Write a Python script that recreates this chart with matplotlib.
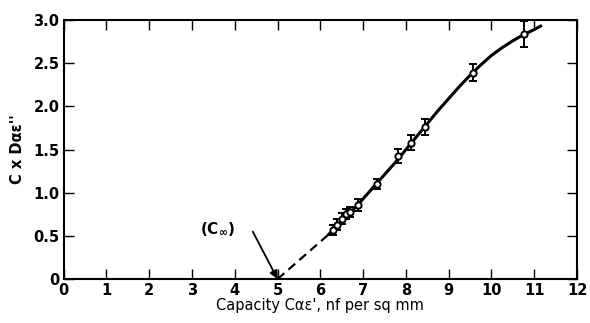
import numpy as np
import matplotlib.pyplot as plt

# measured points with error bars
cap_x = [6.3, 6.4, 6.5, 6.6, 6.7, 6.88, 7.33, 7.82, 8.13, 8.44, 9.57, 10.77]
cap_y = [0.57, 0.63, 0.70, 0.75, 0.78, 0.86, 1.10, 1.43, 1.58, 1.76, 2.39, 2.84]
cap_err = [0.06, 0.06, 0.06, 0.06, 0.06, 0.07, 0.06, 0.08, 0.09, 0.09, 0.10, 0.15]

# fitted curve (solid) and extrapolation to C-infinity (dashed)
fit_x = [6.2, 6.4, 6.6, 6.8, 7.0, 7.25, 7.5, 7.75, 8.0, 8.25, 8.5, 8.75, 9.0,
         9.25, 9.5, 9.75, 10.0, 10.25, 10.5, 10.75, 11.0, 11.15]
fit_y = [0.52, 0.62, 0.72, 0.82, 0.93, 1.07, 1.21, 1.35, 1.50, 1.65, 1.80, 1.95, 2.09,
         2.23, 2.36, 2.48, 2.59, 2.68, 2.76, 2.83, 2.89, 2.93]
ext_x = [5.0, 6.2]
ext_y = [0.0, 0.52]

fig = plt.figure(figsize=(5.9, 3.23), dpi=100)
ax = fig.add_axes([0.108, 0.136, 0.870, 0.802])

ax.plot(fit_x, fit_y, color="black", lw=2.2, solid_joinstyle="round")
ax.plot(ext_x, ext_y, color="black", lw=1.6, ls=(0, (4, 2.5)))
ax.errorbar(cap_x, cap_y, yerr=cap_err, fmt="o", ms=4.5, mfc="white", mec="black",
            mew=1.4, ecolor="black", elinewidth=1.4, capsize=3, capthick=1.4, zorder=3)

ax.text(3.6, 0.58, "(C$_\\mathbf{\\infty}$)", ha="center", va="center",
        fontsize=11, fontweight="bold")
ax.annotate("", xy=(5.0, 0.0), xytext=(4.42, 0.55),
            arrowprops=dict(arrowstyle="-|>", color="black", lw=1.3, mutation_scale=12,
                            shrinkA=0, shrinkB=0))

ax.set_xlim(0, 12)
ax.set_ylim(0, 3.0)
ax.set_xticks(range(0, 13))
ax.set_yticks([0, 0.5, 1.0, 1.5, 2.0, 2.5, 3.0])
ax.set_yticklabels(["0", "0.5", "1.0", "1.5", "2.0", "2.5", "3.0"])
ax.tick_params(direction="in", length=7, width=1, top=True, right=True,
               labelsize=10.5, pad=3)
for lab in ax.get_xticklabels() + ax.get_yticklabels():
    lab.set_fontweight("bold")
for s in ax.spines.values():
    s.set_linewidth(1.5)

ax.set_xlabel("Capacity C\u03b1\u03b5', nf per sq mm", fontsize=10.5, labelpad=0)
ax.set_ylabel("C x D\u03b1\u03b5''", fontsize=10.5, fontweight="bold", labelpad=6)

fig.savefig("out.png", dpi=100)
